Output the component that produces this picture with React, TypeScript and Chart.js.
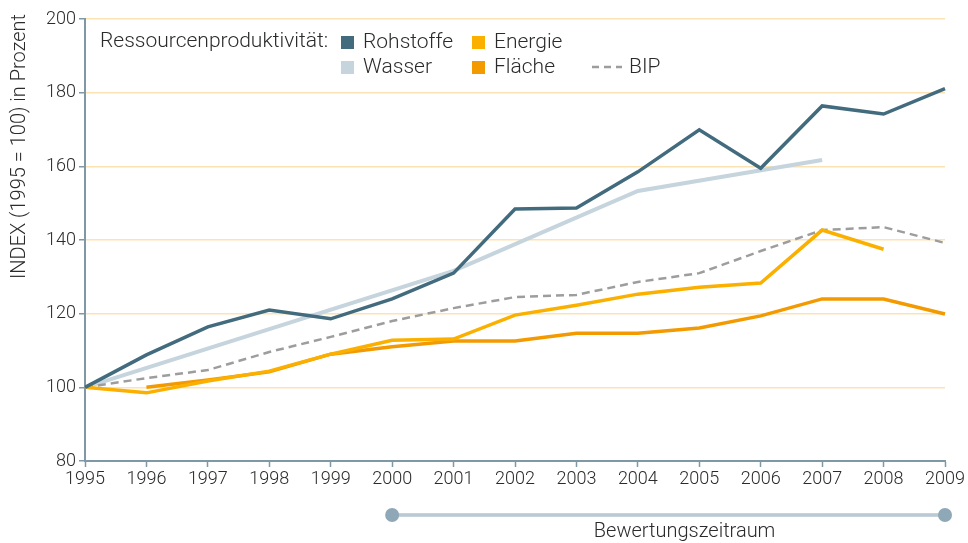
import React, { useEffect, useRef } from "react";
import { Chart, registerables } from "chart.js";

Chart.register(...registerables);

const years = ["1995","1996","1997","1998","1999","2000","2001","2002","2003","2004","2005","2006","2007","2008","2009"];
const rohstoffe = [100, 108.8, 116.4, 121.0, 118.6, 124.0, 131.0, 148.4, 148.7, 158.5, 169.9, 159.5, 176.4, 174.2, 181.1];
const wasser = [100, null, null, 115.8, null, null, 131.6, null, null, 153.3, null, null, 161.7, null, null];
const energie = [100, 98.5, 101.7, 104.4, 109.0, 112.8, 113.1, 119.6, 122.3, 125.3, 127.2, 128.3, 142.7, 137.5, null];
const flaeche = [null, 100, 102.0, 104.2, 109.0, 111.0, 112.6, 112.6, 114.7, 114.7, 116.1, 119.4, 124.0, 124.0, 119.9];
const bip = [100, 102.5, 104.7, 109.6, 113.7, 118.0, 121.5, 124.5, 125.1, 128.6, 131.0, 137.0, 142.7, 143.5, 139.2];
const yTicks = [80, 100, 120, 140, 160, 180, 200];

const C_ROH = "#436b7e";
const C_WAS = "#c5d4dd";
const C_ENE = "#fbb000";
const C_FLA = "#f39a00";
const C_BIP = "#9d9d9d";
const AXIS = "#7f98a6";
const GRID = "#fde3b2";
const TEXT = "#2b2b2b";
const FONT = "Roboto, 'Liberation Sans', sans-serif";

const overlay = {
  id: "overlay",
  afterDraw(chart: any) {
    const ctx = chart.ctx;
    const xs = chart.scales.x;
    ctx.save();
    // y-axis title
    ctx.save();
    ctx.translate(20, 14);
    ctx.rotate(-Math.PI / 2);
    ctx.fillStyle = TEXT;
    ctx.font = `300 20px ${FONT}`;
    ctx.textAlign = "right";
    ctx.textBaseline = "middle";
    ctx.fillText("INDEX (1995 = 100) in Prozent", 0, 0);
    ctx.restore();

    // legend
    ctx.font = `300 21px ${FONT}`;
    ctx.fillStyle = TEXT;
    ctx.textBaseline = "middle";
    ctx.textAlign = "left";
    ctx.fillText("Ressourcenproduktivität:", 100, 42);
    const items = [
      { label: "Rohstoffe", color: C_ROH, x: 341, y: 42 },
      { label: "Energie", color: C_ENE, x: 472, y: 42 },
      { label: "Wasser", color: C_WAS, x: 341, y: 67 },
      { label: "Fläche", color: C_FLA, x: 472, y: 67 },
    ];
    items.forEach((it) => {
      ctx.fillStyle = it.color;
      ctx.fillRect(it.x, it.y - 6, 13, 13);
      ctx.fillStyle = TEXT;
      ctx.fillText(it.label, it.x + 22, it.y + 1);
    });
    ctx.strokeStyle = C_BIP;
    ctx.lineWidth = 2.5;
    ctx.setLineDash([7, 5]);
    ctx.beginPath();
    ctx.moveTo(592, 67);
    ctx.lineTo(622, 67);
    ctx.stroke();
    ctx.setLineDash([]);
    ctx.fillStyle = TEXT;
    ctx.fillText("BIP", 629, 68);

    // Bewertungszeitraum bracket
    const x0 = xs.getPixelForValue(5);
    const x1 = xs.getPixelForValue(14);
    const by = 515;
    ctx.strokeStyle = "#8fa8b7";
    ctx.lineWidth = 3;
    ctx.beginPath();
    ctx.moveTo(x0, by);
    ctx.lineTo(x1, by);
    ctx.stroke();
    ctx.strokeStyle = "#c9d6de";
    ctx.lineWidth = 1.5;
    ctx.beginPath();
    ctx.moveTo(x0, by);
    ctx.lineTo(x1, by);
    ctx.stroke();
    ctx.fillStyle = "#8fa8b7";
    [x0, x1].forEach((x) => {
      ctx.beginPath();
      ctx.arc(x, by, 7, 0, Math.PI * 2);
      ctx.fill();
    });
    ctx.fillStyle = TEXT;
    ctx.font = `300 20px ${FONT}`;
    ctx.textAlign = "center";
    ctx.textBaseline = "middle";
    ctx.fillText("Bewertungszeitraum", (x0 + x1) / 2 + 16, 532);
    ctx.restore();
  },
};

export default function App() {
  const ref = useRef<HTMLCanvasElement | null>(null);
  useEffect(() => {
    if (!ref.current) return;
    const lineDs = (label: string, data: any[], color: string, width: number, extra: any = {}) => ({
      label,
      data,
      borderColor: color,
      backgroundColor: color,
      borderWidth: width,
      pointRadius: 0,
      tension: 0,
      spanGaps: true,
      fill: false,
      borderJoinStyle: "miter",
      ...extra,
    });
    const chart = new Chart(ref.current, {
      type: "line",
      data: {
        labels: years,
        datasets: [
          lineDs("Rohstoffe", rohstoffe, C_ROH, 3.5, { order: 1 }),
          lineDs("Energie", energie, C_ENE, 3.5, { order: 2 }),
          lineDs("Fläche", flaeche, C_FLA, 3.5, { order: 3 }),
          lineDs("BIP", bip, C_BIP, 2.5, { order: 4, borderDash: [8, 5] }),
          lineDs("Wasser", wasser, C_WAS, 4, { order: 5 }),
        ],
      },
      options: {
        animation: false,
        responsive: false,
        maintainAspectRatio: false,
        layout: { padding: { top: 19, right: 23, left: 0, bottom: 0 } },
        plugins: { legend: { display: false }, tooltip: { enabled: false } },
        scales: {
          x: {
            type: "category",
            offset: false,
            grid: { display: true, drawOnChartArea: false, drawTicks: true, tickLength: 6, tickColor: AXIS, tickWidth: 1.5 },
            border: { display: true, color: AXIS, width: 2 },
            ticks: { color: TEXT, font: { family: FONT, size: 18, weight: "300" }, padding: 2, maxRotation: 0, autoSkip: false },
            afterFit: (s: any) => { s.height = 82; },
          },
          y: {
            min: 80,
            max: 200,
            afterBuildTicks: (s: any) => { s.ticks = yTicks.map((v) => ({ value: v })); },
            grid: {
              color: (c: any) => (c.tick && c.tick.value === 80 ? "rgba(0,0,0,0)" : GRID),
              lineWidth: 1.5,
              drawTicks: true,
              tickLength: 6,
              tickColor: AXIS,
              tickWidth: 1.5,
            },
            border: { display: true, color: AXIS, width: 2 },
            ticks: { color: TEXT, font: { family: FONT, size: 18, weight: "300" }, padding: 3 },
            afterFit: (s: any) => { s.width = 85; },
          },
        },
      },
      plugins: [overlay],
    } as any);
    return () => chart.destroy();
  }, []);
  return (
    <div style={{ position: "absolute", left: 0, top: 0, width: 968, height: 543, background: "#fff" }}>
      <canvas ref={ref} width={968} height={543} style={{ width: 968, height: 543, display: "block" }} />
    </div>
  );
}
